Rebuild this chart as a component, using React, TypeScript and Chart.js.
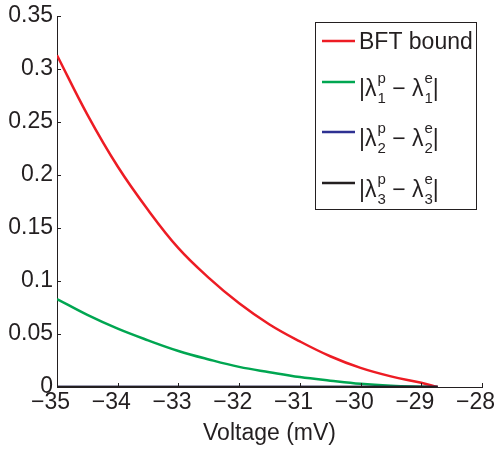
import { useEffect, useRef } from 'react';
import { Chart, registerables } from 'chart.js';

Chart.register(...registerables);

// ---- data ----
const voltage = [-35, -34.5, -34, -33.5, -33, -32.5, -32, -31.5, -31, -30.5, -30, -29.5, -29, -28.73];
const bftBound = [0.313, 0.257, 0.208, 0.167, 0.131, 0.103, 0.079, 0.059, 0.043, 0.029, 0.018, 0.010, 0.004, 0];
const lambda1Diff = [0.083, 0.068, 0.055, 0.044, 0.034, 0.026, 0.019, 0.014, 0.0094, 0.006, 0.003, 0.0012, 0.0003, 0];
const lambda2Diff = [0, 0, 0, 0, 0, 0, 0, 0, 0, 0, 0, 0, 0, 0];
const lambda3Diff = [0, 0, 0, 0, 0, 0, 0, 0, 0, 0, 0, 0, 0, 0];

const seriesLabels = [
  'BFT bound',
  '|λ_{1}^{p} − λ_{1}^{e}|',
  '|λ_{2}^{p} − λ_{2}^{e}|',
  '|λ_{3}^{p} − λ_{3}^{e}|',
];
const xTicks = [-35, -34, -33, -32, -31, -30, -29, -28];
const yTicks = [0, 0.05, 0.1, 0.15, 0.2, 0.25, 0.3, 0.35];
const xTitle = 'Voltage (mV)';

// ---- styles ----
const FONT = "'Liberation Sans', Arial, Helvetica, sans-serif";
const INK = '#231F20';
const COLORS = ['rgb(237,28,36)', 'rgb(0,166,81)', 'rgb(46,49,146)', 'rgb(35,31,32)'];

const toPoints = (ys: number[]) => voltage.map((x, i) => ({ x, y: ys[i] }));

function parseTex(s: string) {
  const segs: { t?: string; sub?: string; sup?: string }[] = [];
  const re = /_\{([^}]*)\}\^\{([^}]*)\}/g;
  let last = 0;
  let m: RegExpExecArray | null;
  while ((m = re.exec(s))) {
    if (m.index > last) segs.push({ t: s.slice(last, m.index) });
    segs.push({ sub: m[1], sup: m[2] });
    last = re.lastIndex;
  }
  if (last < s.length) segs.push({ t: s.slice(last) });
  return segs;
}

const inwardTicks = {
  id: 'inwardTicks',
  afterDraw(chart: any) {
    const { ctx, chartArea, scales } = chart;
    ctx.save();
    ctx.strokeStyle = INK;
    ctx.lineWidth = 1;
    ctx.beginPath();
    scales.x.ticks.forEach((t: any) => {
      const px = Math.round(scales.x.getPixelForValue(t.value)) + 0.5;
      ctx.moveTo(px, chartArea.bottom);
      ctx.lineTo(px, chartArea.bottom - 4);
    });
    scales.y.ticks.forEach((t: any) => {
      const py = Math.round(scales.y.getPixelForValue(t.value)) + 0.5;
      ctx.moveTo(chartArea.left, py);
      ctx.lineTo(chartArea.left + 4, py);
    });
    ctx.stroke();
    ctx.restore();
  },
};

const texLegend = {
  id: 'texLegend',
  afterDraw(chart: any) {
    const { ctx } = chart;
    const box = { x: 315.5, y: 22.5, w: 161, h: 187 };
    const rows = [41, 82, 132, 183];
    ctx.save();
    ctx.fillStyle = '#ffffff';
    ctx.fillRect(box.x, box.y, box.w, box.h);
    ctx.strokeStyle = INK;
    ctx.lineWidth = 1;
    ctx.strokeRect(box.x, box.y, box.w, box.h);
    chart.data.datasets.forEach((ds: any, i: number) => {
      const L = rows[i];
      ctx.strokeStyle = ds.borderColor;
      ctx.lineWidth = 2.5;
      ctx.beginPath();
      ctx.moveTo(322, L);
      ctx.lineTo(355, L);
      ctx.stroke();
      ctx.fillStyle = INK;
      ctx.textAlign = 'left';
      ctx.textBaseline = 'alphabetic';
      let x = 359;
      const segs = parseTex(ds.label);
      const simple = segs.length === 1;
      segs.forEach((sg) => {
        if (sg.t !== undefined) {
          ctx.font = `23px ${FONT}`;
          ctx.fillText(sg.t, x, simple ? L + 8 : L + 14);
          x += ctx.measureText(sg.t).width;
        } else {
          ctx.font = `15px ${FONT}`;
          ctx.fillText(sg.sup, x + 1, L + 1);
          ctx.fillText(sg.sub, x + 1, L + 21);
          x += Math.max(ctx.measureText(sg.sup!).width, ctx.measureText(sg.sub!).width) + 1;
        }
      });
    });
    ctx.restore();
  },
};

// minus sign hangs to the left of the centred digits (balanced by trailing spaces)
const fmtX = (v: number) => (v < 0 ? '\u2212' + Math.abs(v) + '\u00A0\u00A0' : String(v));
const fmtY = (v: number) => String(Number(v.toFixed(2)));

export default function App() {
  const ref = useRef<HTMLCanvasElement>(null);
  useEffect(() => {
    if (!ref.current) return;
    const series = [bftBound, lambda1Diff, lambda2Diff, lambda3Diff];
    const orders = [2, 3, 1, 0];
    const chart = new Chart(ref.current, {
      type: 'line',
      data: {
        datasets: series.map((s, i) => ({
          label: seriesLabels[i],
          data: toPoints(s),
          borderColor: COLORS[i],
          backgroundColor: COLORS[i],
          borderWidth: 2.5,
          pointRadius: 0,
          fill: false,
          tension: 0.4,
          order: orders[i],
        })),
      },
      options: {
        animation: false,
        responsive: false,
        devicePixelRatio: 1,
        layout: { padding: { top: 16, right: 13, left: 0, bottom: 0 } },
        plugins: { legend: { display: false }, tooltip: { enabled: false } },
        scales: {
          x: {
            type: 'linear',
            min: -35,
            max: -28,
            afterBuildTicks: (sc: any) => { sc.ticks = xTicks.map((v) => ({ value: v })); },
            afterFit: (sc: any) => { sc.height = 62; sc.paddingLeft = 0; sc.paddingRight = 0; },
            ticks: { callback: (v: any) => fmtX(Number(v)), color: INK, font: { family: FONT, size: 23 }, padding: 2, maxRotation: 0, autoSkip: false },
            grid: { display: true, drawOnChartArea: false, drawTicks: false, color: 'rgba(0,0,0,0)' },
            border: { display: true, color: INK, width: 1 },
            title: { display: true, text: xTitle, color: INK, font: { family: FONT, size: 23 }, padding: { top: 0, bottom: 2 } },
          },
          y: {
            type: 'linear',
            min: 0,
            max: 0.35,
            afterBuildTicks: (sc: any) => { sc.ticks = yTicks.map((v) => ({ value: v })); },
            afterFit: (sc: any) => { sc.width = 57; sc.paddingTop = 0; sc.paddingBottom = 0; },
            ticks: { callback: (v: any) => fmtY(Number(v)), color: INK, font: { family: FONT, size: 23 }, padding: 4, autoSkip: false },
            grid: { display: true, drawOnChartArea: false, drawTicks: false, color: 'rgba(0,0,0,0)' },
            border: { display: true, color: INK, width: 1 },
          },
        },
      },
      plugins: [inwardTicks, texLegend],
    });
    return () => chart.destroy();
  }, []);
  return (
    <div style={{ position: 'absolute', left: 0, top: 0, width: 495, height: 449, background: '#fff' }}>
      <canvas ref={ref} width={495} height={449} style={{ width: 495, height: 449, display: 'block' }} />
    </div>
  );
}
